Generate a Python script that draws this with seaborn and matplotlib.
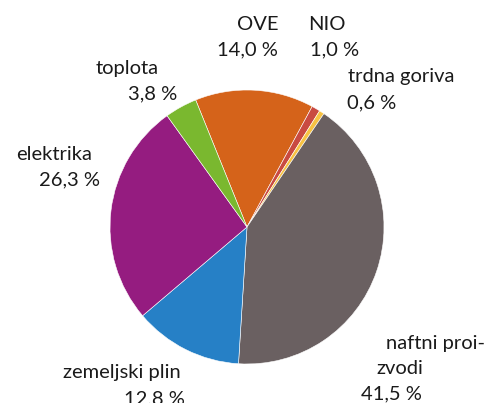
"""
Struktura rabe energije - tortni diagram
"""

import matplotlib
matplotlib.use('Agg')
import matplotlib.pyplot as plt
import seaborn as sns

# podatki (delez v %), v smeri urinega kazalca od OVE naprej
categories = ['OVE', 'NIO', 'trdna goriva', 'naftni proizvodi',
              'zemeljski plin', 'elektrika', 'toplota']
shares = [14.0, 1.0, 0.6, 41.5, 12.8, 26.3, 3.8]
colors = ['#D5631A', '#C94A41', '#F7C243', '#6A6061',
          '#2680C6', '#951C80', '#7AB82F']

# napisi - vsaka vrstica posebej (kot v predlogi)
label_lines = [
    ['OVE'], ['NIO'], ['trdna goriva'], ['naftni proi-', 'zvodi'],
    ['zemeljski plin'], ['elektrika'], ['toplota'],
]
# sredina vrstice (x) in osnovnica (y) v pikslih slike
line_pos = [
    [(258, 30), (247, 55)],
    [(327, 30), (335, 55)],
    [(401, 82), (372, 108)],
    [(435, 349), (400, 374), (391, 399)],
    [(122, 378), (154, 404)],
    [(54, 160), (69, 185)],
    [(127, 74), (153, 99)],
]

W, H = 486, 403

sns.set_style('white')
plt.rcParams['font.family'] = ['Lato', 'DejaVu Sans']

fig = plt.figure(figsize=(W / 100, H / 100), dpi=100)
ax = fig.add_axes([0, 0, 1, 1])

ax.pie(shares, colors=colors, startangle=112, counterclock=False,
       center=(247, H - 227), radius=137,
       wedgeprops={'edgecolor': 'white', 'linewidth': 0.4})

ax.set_xlim(0, W)
ax.set_ylim(0, H)
ax.set_aspect('equal')
ax.axis('off')

for lines, val, pos in zip(label_lines, shares, line_pos):
    texts = lines + [f'{val:.1f}'.replace('.', ',') + ' %']
    for t, (x, y) in zip(texts, pos):
        ax.text(x, H - y, t, ha='center', va='baseline',
                fontsize=14.5, color='#1a1a1a')

plt.savefig('out.png', dpi=100)
plt.close()
